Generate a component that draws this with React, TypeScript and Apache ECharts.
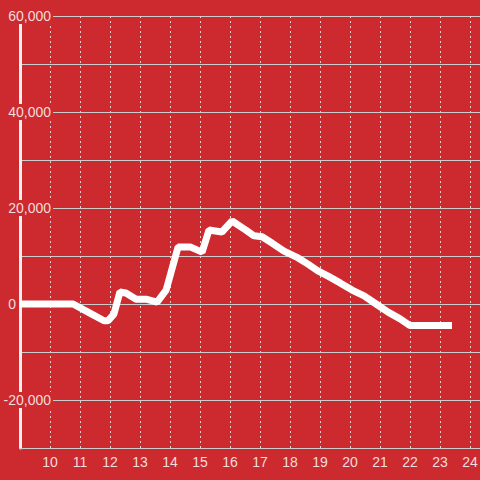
import React, { useEffect, useRef } from "react";
import * as echarts from "echarts";

const hours = [
  9.0, 10.77, 11.33, 11.8, 11.93, 12.13, 12.33, 12.53, 12.87, 13.2, 13.57, 13.87,
  14.27, 14.67, 15.07, 15.3, 15.73, 16.07, 16.53, 16.8, 17.07, 17.4, 17.8, 18.27,
  18.6, 18.93, 19.27, 19.67, 20.07, 20.47, 20.87, 21.27, 21.67, 22.0, 23.4,
];
const values = [
  0, 0, -1900, -3500, -3500, -2100, 2500, 2300, 1000, 1000, 400, 2900,
  11900, 11900, 10800, 15400, 15000, 17300, 15400, 14200, 14000, 12700, 11000, 9600,
  8300, 6900, 5800, 4400, 2900, 1700, 0, -1700, -3100, -4500, -4500,
];
const yLabelValues = [60000, 40000, 20000, 0, -20000];

const BG = "#cc2a2f";
const TEXT = "#f3dcdc";
const FONT = "'Liberation Sans', Arial, sans-serif";

export default function App() {
  const ref = useRef<HTMLDivElement>(null);
  useEffect(() => {
    if (!ref.current) return;
    const chart = echarts.init(ref.current, null, { renderer: "svg" });
    chart.setOption({
      animation: false,
      backgroundColor: BG,
      grid: {
        left: 20,
        right: 0,
        top: 16,
        bottom: 32,
        containLabel: false,
        outerBoundsMode: "none",
      },
      xAxis: {
        type: "value",
        min: 9,
        max: 24.333,
        interval: 1,
        axisLine: { show: true, onZero: false, lineStyle: { color: "#cccccc", width: 1 } },
        axisTick: { show: false },
        axisLabel: {
          color: TEXT,
          fontSize: 14,
          fontFamily: FONT,
          margin: 7,
          formatter: (v: number) =>
            Math.abs(v - Math.round(v)) < 1e-6 && Math.round(v) !== 9
              ? String(Math.round(v))
              : "",
        },
        splitLine: {
          show: true,
          lineStyle: { color: "#e6d0d0", width: 1, type: [2, 3] },
        },
      },
      yAxis: {
        type: "value",
        min: -30000,
        max: 60000,
        interval: 10000,
        axisLine: { show: true, lineStyle: { color: "#f5f0f0", width: 3 } },
        axisTick: { show: false },
        axisLabel: {
          margin: -33,
          formatter: (v: number) => {
            if (!yLabelValues.includes(v)) return "";
            const s = v.toLocaleString("en-US");
            return v === 0 ? `{z|${s}}` : `{a|${s}}`;
          },
          rich: {
            a: {
              color: TEXT,
              fontSize: 14,
              fontFamily: FONT,
              backgroundColor: BG,
              padding: [1, 2, 1, 3],
              lineHeight: 16,
            },
            z: {
              color: TEXT,
              fontSize: 14,
              fontFamily: FONT,
              padding: [1, 37, 1, 0],
              lineHeight: 16,
            },
          },
        },
        splitLine: { show: true, lineStyle: { color: "#cccccc", width: 1 } },
      },
      series: [
        {
          type: "line",
          data: hours.map((h, i) => [h, values[i]]),
          symbol: "none",
          lineStyle: { color: "#ffffff", width: 7 },
          z: 3,
          markLine: {
            silent: true,
            symbol: "none",
            label: { show: false },
            lineStyle: { color: "#f5f0f0", width: 4, type: "solid" },
            z: 2,
            data: [[{ coord: [8.9, 0] }, { coord: [24.333, 0] }]],
          },
        },
      ],
    });
    return () => chart.dispose();
  }, []);
  return (
    <div
      ref={ref}
      style={{ position: "fixed", left: 0, top: 0, width: 480, height: 480 }}
    />
  );
}
